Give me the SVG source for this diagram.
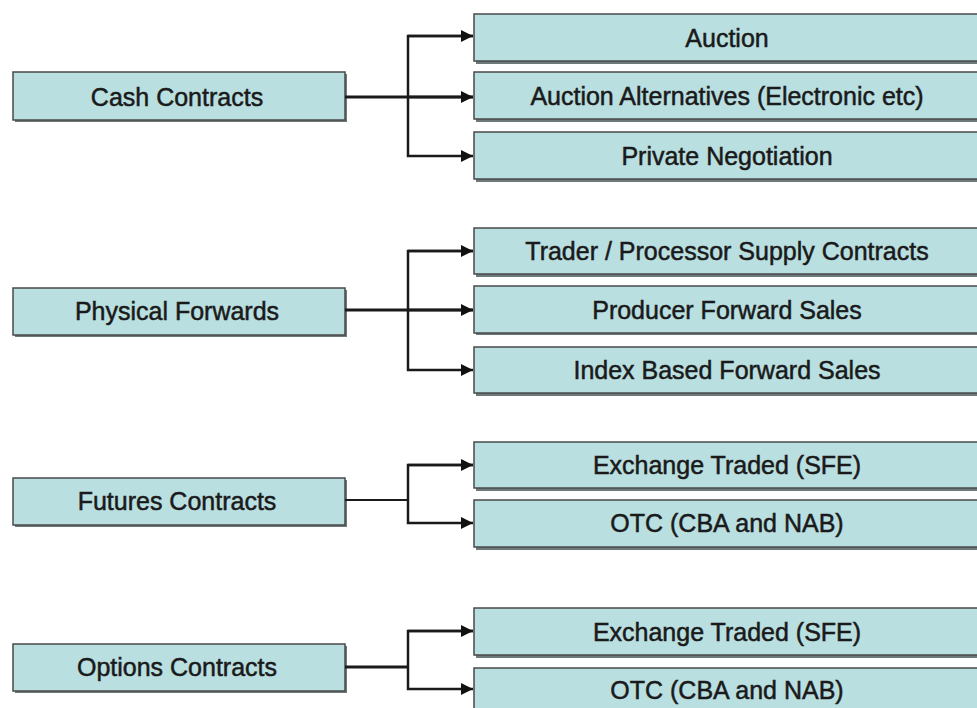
<svg xmlns="http://www.w3.org/2000/svg" width="977" height="708" viewBox="0 0 977 708">
<style>
.box{fill:#b9dfe1;stroke:#4a4a4a;stroke-width:1.5}
.sh{fill:#6e7a7a}
.t{font-family:"Liberation Sans",Arial,sans-serif;font-size:25px;fill:#1a1a1a;text-anchor:middle;dominant-baseline:central;stroke:#1a1a1a;stroke-width:0.5}
.c{fill:none;stroke:#1a1a1a;stroke-width:2.5}
</style>
<defs>
<marker id="ah" viewBox="0 0 10 10" refX="10" refY="5" markerWidth="14" markerHeight="12" markerUnits="userSpaceOnUse" orient="auto"><path d="M0,0L10,5L0,10z" fill="#111"/></marker>
</defs>
<rect width="977" height="708" fill="#fff"/>
<g id="cash"><rect class="sh" x="15" y="74" width="332" height="48"/><rect class="box" x="13" y="72" width="332" height="48"/><text class="t" x="177" y="97">Cash Contracts</text></g>
<g id="auction"><rect class="sh" x="476" y="16" width="510" height="48"/><rect class="box" x="474" y="14" width="510" height="47"/><text class="t" x="727" y="38">Auction</text></g>
<g id="auction-alt"><rect class="sh" x="476" y="74" width="510" height="48"/><rect class="box" x="474" y="72" width="510" height="47"/><text class="t" x="727" y="96">Auction Alternatives (Electronic etc)</text></g>
<g id="private"><rect class="sh" x="476" y="134" width="510" height="48"/><rect class="box" x="474" y="132" width="510" height="47"/><text class="t" x="727" y="156">Private Negotiation</text></g>
<g id="physical"><rect class="sh" x="15" y="290" width="332" height="47"/><rect class="box" x="13" y="288" width="332" height="47"/><text class="t" x="177" y="311">Physical Forwards</text></g>
<g id="trader"><rect class="sh" x="476" y="230" width="510" height="47"/><rect class="box" x="474" y="228" width="510" height="46"/><text class="t" x="727" y="251">Trader / Processor Supply Contracts</text></g>
<g id="producer"><rect class="sh" x="476" y="288" width="510" height="47"/><rect class="box" x="474" y="286" width="510" height="47"/><text class="t" x="727" y="310">Producer Forward Sales</text></g>
<g id="index"><rect class="sh" x="476" y="349" width="510" height="47"/><rect class="box" x="474" y="347" width="510" height="46"/><text class="t" x="727" y="370">Index Based Forward Sales</text></g>
<g id="futures"><rect class="sh" x="15" y="480" width="332" height="47"/><rect class="box" x="13" y="478" width="332" height="47"/><text class="t" x="177" y="501">Futures Contracts</text></g>
<g id="fut-exch"><rect class="sh" x="476" y="444" width="510" height="47"/><rect class="box" x="474" y="442" width="510" height="46"/><text class="t" x="727" y="465">Exchange Traded (SFE)</text></g>
<g id="fut-otc"><rect class="sh" x="476" y="502" width="510" height="48"/><rect class="box" x="474" y="500" width="510" height="47"/><text class="t" x="727" y="523">OTC (CBA and NAB)</text></g>
<g id="options"><rect class="sh" x="15" y="646" width="332" height="47"/><rect class="box" x="13" y="644" width="332" height="47"/><text class="t" x="177" y="667">Options Contracts</text></g>
<g id="opt-exch"><rect class="sh" x="476" y="610" width="510" height="48"/><rect class="box" x="474" y="608" width="510" height="47"/><text class="t" x="727" y="632">Exchange Traded (SFE)</text></g>
<g id="opt-otc"><rect class="sh" x="476" y="670" width="510" height="48"/><rect class="box" x="474" y="668" width="510" height="47"/><text class="t" x="727" y="690">OTC (CBA and NAB)</text></g>
<g id="connectors">
<path class="c" style="stroke-width:3" d="M345,97H473"/>
<path class="c" d="M473,36H408V156H473" marker-end="url(#ah)"/>
<path class="c" d="M408,36H473" marker-end="url(#ah)"/>
<path class="c" d="M408,97H473" marker-end="url(#ah)"/>
<path class="c" style="stroke-width:3" d="M345,310H473"/>
<path class="c" d="M473,251H408V370H473" marker-end="url(#ah)"/>
<path class="c" d="M408,251H473" marker-end="url(#ah)"/>
<path class="c" d="M408,310H473" marker-end="url(#ah)"/>
<path class="c" style="stroke-width:2" d="M345,500H408"/>
<path class="c" d="M473,465H408V523H473" marker-end="url(#ah)"/>
<path class="c" d="M408,465H473" marker-end="url(#ah)"/>
<path class="c" style="stroke-width:3" d="M345,667H408"/>
<path class="c" d="M473,631H408V689H473" marker-end="url(#ah)"/>
<path class="c" d="M408,631H473" marker-end="url(#ah)"/>
</g>
</svg>
